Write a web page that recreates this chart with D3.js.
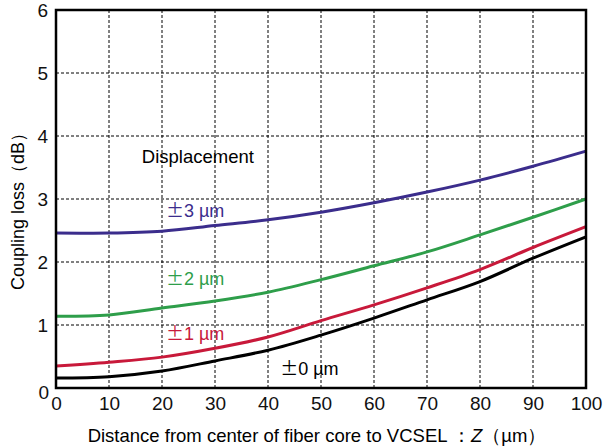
<!DOCTYPE html>
<html>
<head>
<meta charset="utf-8">
<script src="https://cdn.jsdelivr.net/npm/d3@7"></script>
<style>
  body { margin: 0; background: #fff; }
  text { font-family: "Liberation Sans", Arial, sans-serif; }
</style>
</head>
<body>
<div class="canva"></div>
<script>
// distance from fiber core (um)
const distances = [0, 10, 20, 30, 40, 50, 60, 70, 80, 90, 100];
// coupling loss (dB) per displacement
const loss0 = [0.16, 0.18, 0.27, 0.43, 0.60, 0.84, 1.11, 1.40, 1.69, 2.06, 2.40];
const loss1 = [0.35, 0.41, 0.49, 0.63, 0.81, 1.07, 1.32, 1.59, 1.88, 2.23, 2.56];
const loss2 = [1.14, 1.16, 1.27, 1.38, 1.52, 1.72, 1.94, 2.16, 2.43, 2.71, 3.00];
const loss3 = [2.46, 2.46, 2.49, 2.58, 2.67, 2.79, 2.94, 3.11, 3.30, 3.52, 3.76];
const seriesNames = ["0 µm", "1 µm", "2 µm", "3 µm"];
const seriesColors = ["#000000", "#c8193a", "#2e9e4a", "#3b2d8c"];
const xTicks = [0, 10, 20, 30, 40, 50, 60, 70, 80, 90, 100];
const yTicks = [0, 1, 2, 3, 4, 5, 6];

var margin = { top: 10, right: 17, bottom: 60, left: 56 },
    width = 603,
    height = 448;

const series = [loss0, loss1, loss2, loss3].map((vals, i) => ({
  name: seriesNames[i],
  color: seriesColors[i],
  values: vals.map((v, j) => ({ x: distances[j], y: v }))
}));

const x = d3.scaleLinear([0, 100], [margin.left, width - margin.right]);
const y = d3.scaleLinear([0, 6], [height - margin.bottom, margin.top]);

const svg = d3.select(".canva").append("svg")
    .attr("width", width)
    .attr("height", height)
    .attr("viewBox", [0, 0, width, height]);

// dashed grid
svg.append("g")
    .selectAll("line")
    .data(xTicks.slice(1, -1))
    .join("line")
    .attr("x1", d => x(d)).attr("x2", d => x(d))
    .attr("y1", y(0)).attr("y2", y(6))
    .attr("stroke", "#000").attr("stroke-width", 1).attr("stroke-dasharray", "3,2");

svg.append("g")
    .selectAll("line")
    .data(yTicks.slice(1, -1))
    .join("line")
    .attr("x1", x(0)).attr("x2", x(100))
    .attr("y1", d => y(d)).attr("y2", d => y(d))
    .attr("stroke", "#000").attr("stroke-width", 1).attr("stroke-dasharray", "3,2");

// curves
const line = d3.line()
    .x(d => x(d.x))
    .y(d => y(d.y))
    .curve(d3.curveCatmullRom);

svg.append("g")
    .selectAll("path")
    .data(series)
    .join("path")
    .attr("fill", "none")
    .attr("stroke", d => d.color)
    .attr("stroke-width", 3)
    .attr("d", d => line(d.values));

// frame
svg.append("rect")
    .attr("x", x(0)).attr("y", y(6))
    .attr("width", x(100) - x(0)).attr("height", y(0) - y(6))
    .attr("fill", "none").attr("stroke", "#000").attr("stroke-width", 2.5);

// axes
svg.append("g")
    .attr("transform", `translate(0, ${y(0)})`)
    .call(d3.axisBottom(x).tickValues(xTicks).tickFormat(d3.format("d")).tickSize(0).tickPadding(9))
    .call(g => g.attr("font-size", 19).attr("font-family", "Liberation Sans, Arial, sans-serif"))
    .call(g => g.select(".domain").remove())
    .call(g => g.selectAll("text").attr("fill", "#111"));

svg.append("g")
    .attr("transform", `translate(${x(0)}, 0)`)
    .call(d3.axisLeft(y).tickValues(yTicks).tickFormat(d3.format("d")).tickSize(0).tickPadding(8))
    .call(g => g.attr("font-size", 19).attr("font-family", "Liberation Sans, Arial, sans-serif"))
    .call(g => g.select(".domain").remove())
    .call(g => g.selectAll("text").attr("fill", "#111"))
    .call(g => g.selectAll(".tick").filter(d => d === 0).select("text").attr("y", 4).attr("x", -7));

// axis titles
svg.append("text")
    .attr("transform", `translate(24, ${(y(0) + y(6)) / 2 + 8}) rotate(-90)`)
    .attr("text-anchor", "middle")
    .attr("font-size", 18)
    .text("Coupling loss（dB）");

const xl = svg.append("text")
    .attr("x", (x(0) + x(100)) / 2 - 4)
    .attr("y", 442)
    .attr("text-anchor", "middle")
    .attr("font-size", 18.5);
xl.append("tspan").text("Distance from center of fiber core to VCSEL ：");
xl.append("tspan").attr("font-style", "italic").text("Z");
xl.append("tspan").text("（µm）");

// annotations
svg.append("text")
    .attr("x", x(16.2)).attr("y", y(3.57))
    .attr("font-size", 18.5)
    .text("Displacement");

const labelPos = [[42.3, 0.21], [20.75, 0.76], [20.75, 1.63], [20.75, 2.71]];
const labels = svg.append("g")
    .selectAll("text")
    .data(series)
    .join("text")
    .attr("x", (d, i) => x(labelPos[i][0]))
    .attr("y", (d, i) => y(labelPos[i][1]))
    .attr("font-size", 18)
    .attr("fill", d => d.color);
labels.append("tspan")
    .attr("font-family", "Noto Sans CJK JP, sans-serif")
    .text("±");
labels.append("tspan").text(d => d.name);
</script>
</body>
</html>
